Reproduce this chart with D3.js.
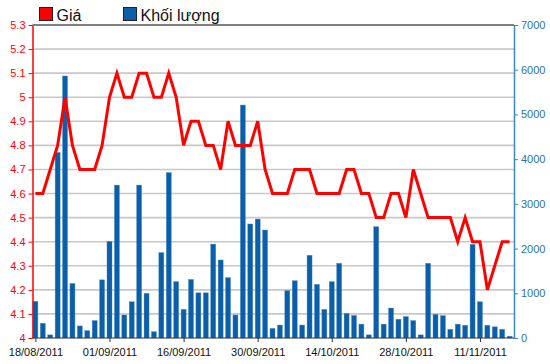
<!DOCTYPE html>
<html><head><meta charset="utf-8">
<script src="https://cdn.jsdelivr.net/npm/d3@7"></script>
<style>
html,body{margin:0;padding:0;background:#fff;}
svg{display:block;font-family:"Liberation Sans",Arial,sans-serif;}
</style></head>
<body>
<svg id="chart" width="550" height="364"></svg>
<script>
const dates = ["18/08/2011","19/08/2011","22/08/2011","23/08/2011","24/08/2011","25/08/2011","26/08/2011","29/08/2011","30/08/2011","31/08/2011",
"01/09/2011","05/09/2011","06/09/2011","07/09/2011","08/09/2011","09/09/2011","12/09/2011","13/09/2011","14/09/2011","15/09/2011",
"16/09/2011","19/09/2011","20/09/2011","21/09/2011","22/09/2011","23/09/2011","26/09/2011","27/09/2011","28/09/2011","29/09/2011",
"30/09/2011","03/10/2011","04/10/2011","05/10/2011","06/10/2011","07/10/2011","10/10/2011","11/10/2011","12/10/2011","13/10/2011",
"14/10/2011","17/10/2011","18/10/2011","19/10/2011","20/10/2011","21/10/2011","24/10/2011","25/10/2011","26/10/2011","27/10/2011",
"28/10/2011","31/10/2011","01/11/2011","02/11/2011","03/11/2011","04/11/2011","07/11/2011","08/11/2011","09/11/2011","10/11/2011",
"11/11/2011","14/11/2011","15/11/2011","16/11/2011","17/11/2011"];
const price = [4.6,4.6,4.7,4.8,5.0,4.8,4.7,4.7,4.7,4.8,
5.0,5.1,5.0,5.0,5.1,5.1,5.0,5.0,5.1,5.0,
4.8,4.9,4.9,4.8,4.8,4.7,4.9,4.8,4.8,4.8,
4.9,4.7,4.6,4.6,4.6,4.7,4.7,4.7,4.6,4.6,
4.6,4.6,4.7,4.7,4.6,4.6,4.5,4.5,4.6,4.6,
4.5,4.7,4.6,4.5,4.5,4.5,4.5,4.4,4.5,4.4,
4.4,4.2,4.3,4.4,4.4];
const volume = [820,330,70,4150,5860,1220,270,165,390,1300,
2160,3420,515,810,3420,1000,140,1910,3700,1260,
640,1310,1010,1010,2100,1745,1350,515,5210,2550,
2660,2415,215,290,1060,1280,290,1850,1200,640,
1260,1670,550,505,310,70,2490,310,670,420,
480,390,70,1670,530,500,195,310,285,2095,
810,285,250,195,40];
const priceTicks = [4,4.1,4.2,4.3,4.4,4.5,4.6,4.7,4.8,4.9,5,5.1,5.2,5.3];
const volumeTicks = [0,1000,2000,3000,4000,5000,6000,7000];
const xTickLabels = ["18/08/2011","01/09/2011","16/09/2011","30/09/2011","14/10/2011","28/10/2011","11/11/2011"];
const legendItems = [{name:"Giá",color:"#ff0000"},{name:"Khối lượng",color:"#0b5ea8"}];

const svg = d3.select("#chart");
const L = 32.5, R = 514, T = 25, B = 338;
const x = d3.scaleLinear().domain([0, dates.length-1]).range([35.4, 509.6]);
const yP = d3.scaleLinear().domain([4, 5.3]).range([B, T]);
const yV = d3.scaleLinear().domain([0, 7000]).range([B, T]);

// gridlines
svg.append("g").selectAll("line").data(priceTicks.filter(d=>d>4 && d<5.3)).join("line")
  .attr("x1", L).attr("x2", R).attr("y1", d=>yP(d)).attr("y2", d=>yP(d))
  .attr("stroke", "#c8c8c8").attr("stroke-width", 1.6);
svg.append("line").attr("x1", L).attr("x2", R).attr("y1", yP(5.3)).attr("y2", yP(5.3))
  .attr("stroke", "#555").attr("stroke-width", 1.5);

// bars
const bw = 5;
svg.append("g").selectAll("rect").data(volume).join("rect")
  .attr("x", (d,i)=>x(i)-bw/2).attr("width", bw)
  .attr("y", d=>yV(d)).attr("height", d=>B-yV(d))
  .attr("fill", "#0b5ea8").attr("stroke", "#4d8fc8").attr("stroke-width", 0.4);

// price line
svg.append("path").datum(price)
  .attr("d", d3.line().x((d,i)=>x(i)).y(d=>yP(d)))
  .attr("fill", "none").attr("stroke", "#ff0000").attr("stroke-width", 3)
  .attr("stroke-linejoin", "miter");

// left axis
const fmtP = d => String(+d.toFixed(1));
const gL = svg.append("g").attr("transform", `translate(${L},0)`)
  .call(d3.axisLeft(yP).tickValues(priceTicks).tickFormat(fmtP).tickSize(4).tickSizeOuter(0).tickPadding(3));
gL.select(".domain").attr("stroke", "#ff0000").attr("stroke-width", 1.5);
gL.selectAll(".tick line").attr("stroke", "#ff0000");
gL.selectAll("text").attr("fill", "#ff0000").style("font-size", "11px").style("font-family", '"Liberation Sans",Arial,sans-serif');

// right axis
const gR = svg.append("g").attr("transform", `translate(${R},0)`)
  .call(d3.axisRight(yV).tickValues(volumeTicks).tickFormat(d3.format("d")).tickSize(4).tickSizeOuter(0).tickPadding(3));
gR.select(".domain").attr("stroke", "#3a88bd").attr("stroke-width", 1.5);
gR.selectAll(".tick line").attr("stroke", "#3a88bd");
gR.selectAll("text").attr("fill", "#2b72a8").style("font-size", "11px").style("font-family", '"Liberation Sans",Arial,sans-serif');

// x axis
const tickIdx = xTickLabels.map(l => dates.indexOf(l));
const gX = svg.append("g").attr("transform", `translate(0,${B})`)
  .call(d3.axisBottom(x).tickValues(tickIdx).tickFormat(i=>dates[i]).tickSize(4).tickSizeOuter(0).tickPadding(6));
gX.select(".domain").attr("d", `M${L},0H${R}`).attr("stroke", "#333").attr("stroke-width", 1.2);
gX.selectAll(".tick line").attr("stroke", "#333");
gX.selectAll("text").attr("fill", "#111").style("font-size", "11px").style("font-family", '"Liberation Sans",Arial,sans-serif');

// legend
const lg = svg.append("g");
const legX = [39.5, 123.5];
legendItems.forEach((it, k) => {
  lg.append("rect").attr("x", legX[k]).attr("y", 7.5).attr("width", 13).attr("height", 13)
    .attr("fill", it.color).attr("stroke", "#222").attr("stroke-width", 1);
  lg.append("text").attr("x", legX[k] + 17).attr("y", 21).text(it.name)
    .attr("fill", "#111").style("font-size", "16px");
});
</script>
</body></html>
